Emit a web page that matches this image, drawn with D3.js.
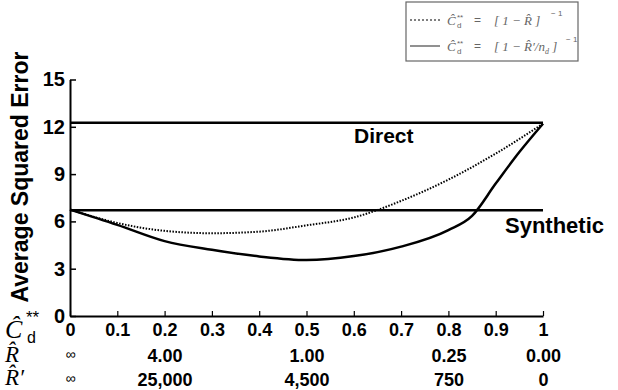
<!DOCTYPE html>
<html>
<head>
<meta charset="utf-8">
<script src="https://cdn.jsdelivr.net/npm/d3@7"></script>
<style>
  body { margin: 0; background: #fff; }
  svg { display: block; font-family: "Liberation Sans", Arial, sans-serif; }
  .bold { font-weight: bold; fill: #000; }
  .serif { font-family: "Liberation Serif", "Times New Roman", serif; font-style: italic; }
</style>
</head>
<body>
<div id="chart"></div>
<script>
// weight of the direct estimator (x) and the two average squared error curves
const weightTicks = [0, 0.1, 0.2, 0.3, 0.4, 0.5, 0.6, 0.7, 0.8, 0.9, 1];
const errorTicks = [0, 3, 6, 9, 12, 15];

const dottedX = [0, 0.1, 0.2, 0.3, 0.4, 0.5, 0.6, 0.7, 0.8, 0.9, 1];
const dottedY = [6.75, 5.9, 5.4, 5.25, 5.35, 5.75, 6.25, 7.3, 8.65, 10.3, 12.2];

const solidX = [0, 0.1, 0.2, 0.3, 0.4, 0.5, 0.6, 0.7, 0.8, 0.85, 0.9, 0.95, 1];
const solidY = [6.75, 5.78, 4.75, 4.2, 3.78, 3.55, 3.8, 4.4, 5.45, 6.35, 8.4, 10.4, 12.2];

const directError = 12.25;
const syntheticError = 6.7;

// extra scales printed under the x axis
const rPositions = [0, 0.2, 0.5, 0.8, 1];
const rLabels = ['\u221e', '4.00', '1.00', '0.25', '0.00'];
const rPrimeLabels = ['\u221e', '25,000', '4,500', '750', '0'];

const width = 618, height = 390;
const svg = d3.select('#chart').append('svg').attr('width', width).attr('height', height);

const x = d3.scaleLinear().domain([0, 1]).range([70, 543]);
const y = d3.scaleLinear().domain([0, 15]).range([316, 79.5]);

// y axis
const yAxis = svg.append('g')
  .attr('transform', `translate(${x(0)},0)`)
  .call(d3.axisLeft(y).tickValues(errorTicks).tickSizeInner(-6).tickSizeOuter(0).tickPadding(5));
yAxis.select('.domain').attr('stroke', '#000').attr('stroke-width', 2);
yAxis.selectAll('.tick line').attr('stroke', '#000').attr('stroke-width', 1.5);
yAxis.selectAll('.tick text').attr('class', 'bold').attr('font-size', 20).attr('fill', '#000');

// x axis
const xAxis = svg.append('g')
  .attr('transform', `translate(0,${y(0)})`)
  .call(d3.axisBottom(x).tickValues(weightTicks).tickFormat(d3.format('~g')).tickSizeInner(-5).tickSizeOuter(0).tickPadding(7));
xAxis.select('.domain').attr('stroke', '#000').attr('stroke-width', 2);
xAxis.selectAll('.tick line').attr('stroke', '#000').attr('stroke-width', 1.2);
xAxis.selectAll('.tick text').attr('class', 'bold').attr('font-size', 18).attr('fill', '#000');

// R-hat and R-hat-prime rows, drawn as label-only axes
function labelRow(yPos, labels) {
  const g = svg.append('g')
    .attr('transform', `translate(0,${yPos})`)
    .call(d3.axisBottom(x).tickValues(rPositions).tickFormat((d, i) => labels[i]).tickSize(0).tickPadding(0));
  g.select('.domain').remove();
  g.selectAll('.tick text')
    .attr('fill', '#000')
    .attr('font-weight', (d, i) => (i === 0 ? 'normal' : 'bold'))
    .attr('font-size', (d, i) => (i === 0 ? 14 : 18));
}
labelRow(349, rLabels);
labelRow(373, rPrimeLabels);

// row labels on the left
svg.append('text').attr('class', 'serif').attr('x', 5).attr('y', 338).attr('font-size', 26).text('\u0108');
svg.append('text').attr('x', 26).attr('y', 323).attr('font-size', 17).text('**');
svg.append('text').attr('x', 27).attr('y', 343).attr('font-size', 16).text('d');
svg.append('text').attr('class', 'serif').attr('x', 5).attr('y', 362).attr('font-size', 23).text('R\u0302');
svg.append('text').attr('class', 'serif').attr('x', 5).attr('y', 385).attr('font-size', 23).text('R\u0302\u2032');

// y axis title
svg.append('text')
  .attr('class', 'bold')
  .attr('transform', `translate(28,${177}) rotate(-90)`)
  .attr('text-anchor', 'middle')
  .attr('font-size', 23)
  .text('Average Squared Error');

// reference lines
svg.append('line')
  .attr('x1', x(0)).attr('x2', x(1))
  .attr('y1', y(directError)).attr('y2', y(directError))
  .attr('stroke', '#000').attr('stroke-width', 2.5);
svg.append('line')
  .attr('x1', x(0)).attr('x2', x(1))
  .attr('y1', y(syntheticError)).attr('y2', y(syntheticError))
  .attr('stroke', '#000').attr('stroke-width', 2.5);

svg.append('text').attr('class', 'bold').attr('x', 354).attr('y', 143).attr('font-size', 21).text('Direct');
svg.append('text').attr('class', 'bold').attr('x', 505).attr('y', 233).attr('font-size', 22).text('Synthetic');

// curves
const line = d3.line().x((d) => x(d[0])).y((d) => y(d[1])).curve(d3.curveMonotoneX);

svg.append('path')
  .datum(dottedX.map((v, i) => [v, dottedY[i]]))
  .attr('d', line)
  .attr('fill', 'none')
  .attr('stroke', '#000')
  .attr('stroke-width', 2)
  .attr('stroke-dasharray', '1.5,1.5');

svg.append('path')
  .datum(solidX.map((v, i) => [v, solidY[i]]))
  .attr('d', line)
  .attr('fill', 'none')
  .attr('stroke', '#000')
  .attr('stroke-width', 2.5);

// legend
const lg = svg.append('g');
lg.append('rect')
  .attr('x', 406).attr('y', 2).attr('width', 172).attr('height', 59)
  .attr('fill', '#fff').attr('stroke', '#666').attr('stroke-width', 1.2);

function legendRow(yc, dashed, withN, sup) {
  lg.append('line')
    .attr('x1', 410).attr('x2', 440).attr('y1', yc).attr('y2', yc)
    .attr('stroke', '#555').attr('stroke-width', 1.3)
    .attr('stroke-dasharray', dashed ? '2,2' : null);
  lg.append('text').attr('class', 'serif').attr('x', 447).attr('y', yc + 5).attr('font-size', 13).attr('fill', '#666').text('\u0108');
  lg.append('text').attr('x', 457).attr('y', yc).attr('font-size', 8).attr('fill', '#666').text('**');
  lg.append('text').attr('x', 457).attr('y', yc + 8).attr('font-size', 8).attr('fill', '#666').text('d');
  lg.append('text').attr('x', 474).attr('y', yc + 4).attr('font-size', 12).attr('fill', '#666').text('=');
  const t = lg.append('text').attr('class', 'serif').attr('x', 494).attr('y', yc + 5).attr('font-size', 13).attr('fill', '#666')
    .attr('font-style', 'normal');
  if (withN) {
    t.append('tspan').text('[ 1 \u2212 R\u0302\u2032/n');
    t.append('tspan').attr('font-size', 8).attr('dy', 3).text('d');
    t.append('tspan').attr('dy', -3).text(' ]');
  } else {
    t.text('[ 1 \u2212 R\u0302 ]');
  }
  lg.append('text').attr('x', sup).attr('y', yc - 4).attr('font-size', 8).attr('fill', '#666').text('\u2212 1');
}
legendRow(20, true, false, 551);
legendRow(46, false, true, 566);
</script>
</body>
</html>
